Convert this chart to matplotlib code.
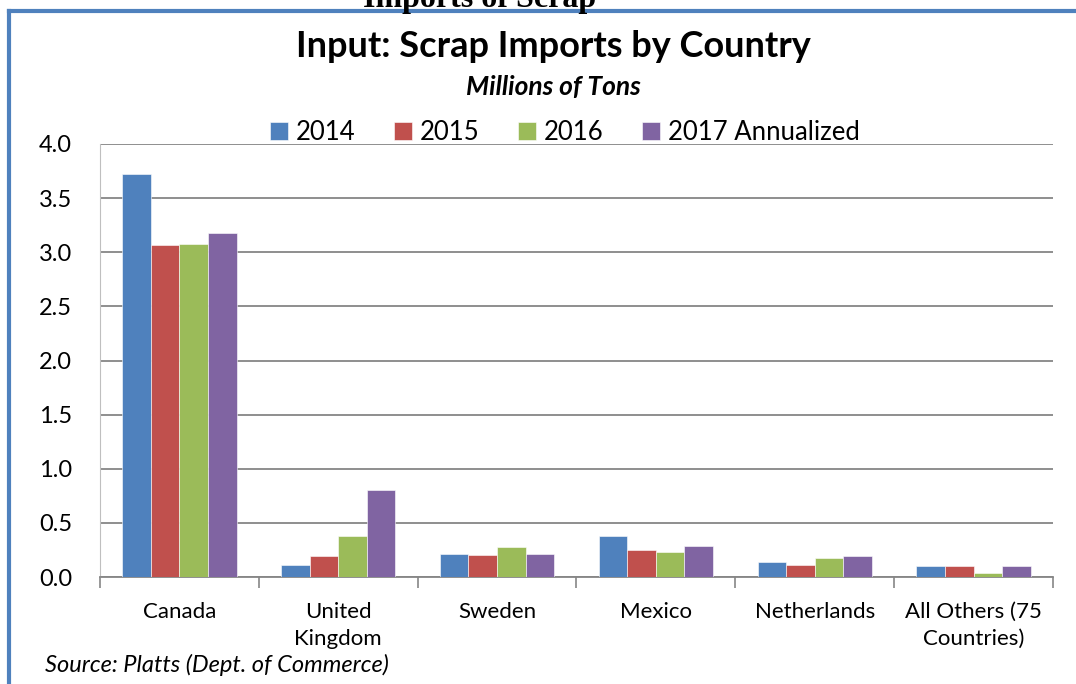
import matplotlib
matplotlib.use('Agg')
import matplotlib.pyplot as plt
import numpy as np

# Importaciones de chatarra por país (millones de toneladas)
paises = ['Canada', 'United\nKingdom', 'Sweden', 'Mexico', 'Netherlands', 'All Others (75\nCountries)']
series = ['2014', '2015', '2016', '2017 Annualized']
v2014 = [3.72, 0.11, 0.21, 0.38, 0.14, 0.10]
v2015 = [3.07, 0.19, 0.20, 0.25, 0.11, 0.10]
v2016 = [3.08, 0.38, 0.28, 0.23, 0.18, 0.04]
v2017 = [3.18, 0.80, 0.21, 0.29, 0.19, 0.10]
colores = ['#4F81BD', '#C0504D', '#9BBB59', '#8064A2']

plt.rcParams['font.family'] = ['Lato', 'DejaVu Sans']

fig = plt.figure(figsize=(10.76, 6.84), dpi=100)
ax = fig.add_axes([0.0929, 0.1564, 0.8857, 0.6331])

x = np.arange(len(paises))
ancho = 0.18
for i, (vals, nombre) in enumerate(zip([v2014, v2015, v2016, v2017], series)):
    ax.bar(x + (i - 1.5) * ancho, vals, ancho, color=colores[i], label=nombre,
           edgecolor='white', linewidth=0.4, zorder=3)

ax.set_xlim(-0.5, len(paises) - 0.5)
ax.set_ylim(0, 4)
ax.set_yticks(np.arange(0, 4.01, 0.5))
ax.set_yticklabels([f'{v:.1f}' for v in np.arange(0, 4.01, 0.5)], fontsize=17)
ax.yaxis.grid(True, color='#868686', linewidth=1.3, zorder=0)
ax.tick_params(axis='y', length=0, pad=20)

# ticks del eje x entre categorías
ax.set_xticks(np.arange(-0.5, len(paises)), minor=False)
ax.set_xticklabels([])
ax.set_xticks(x, minor=True)
ax.set_xticklabels(paises, minor=True, fontsize=16, linespacing=1.45)
ax.tick_params(axis='x', which='major', length=8, color='#868686', width=1.2)
ax.tick_params(axis='x', which='minor', length=0, pad=18)

for s in ['top', 'right']:
    ax.spines[s].set_visible(False)
ax.spines['left'].set_color('#BFBFBF')
ax.spines['bottom'].set_color('#868686')
ax.spines['bottom'].set_linewidth(1.3)

fig.text(0.514, 0.932, 'Input: Scrap Imports by Country', ha='center', va='center',
         fontsize=26, fontweight='bold')
fig.text(0.514, 0.873, 'Millions of Tons', ha='center', va='center',
         fontsize=19, fontweight='bold', style='italic')
fig.legend(loc='center', bbox_to_anchor=(0.525, 0.806), ncol=4, frameon=False,
           fontsize=18.5, handlelength=0.7, handleheight=0.7, handletextpad=0.3,
           columnspacing=1.5)
fig.text(0.042, 0.028, 'Source: Platts (Dept. of Commerce)', ha='left', va='center',
         fontsize=17, style='italic')

# encabezado cortado del documento y marco azul
fig.text(0.446, 1.0, 'Imports of Scrap', ha='center', va='center',
         fontsize=23, fontweight='bold', family='Liberation Serif')
fig.add_artist(plt.Line2D([0.0088, 1.0], [0.9846, 0.9846], color='#4F81BD', linewidth=3))
fig.add_artist(plt.Line2D([0.0088, 0.0088], [0.0, 0.9846], color='#4F81BD', linewidth=3))

fig.savefig('out.png', dpi=100)
